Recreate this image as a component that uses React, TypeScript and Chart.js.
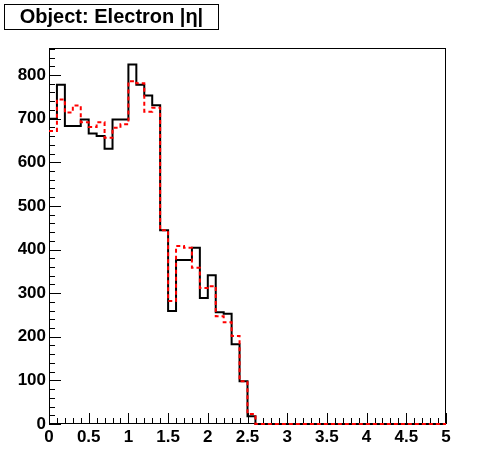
import { useEffect, useRef } from "react";
import { Chart, registerables } from "chart.js";

Chart.register(...registerables);

const TITLE = "Object: Electron |η|";
const X_MIN = 0;
const X_MAX = 5;
const BIN_WIDTH = 0.1;
const Y_MAX = 862;
const X_TICKS = [0, 0.5, 1, 1.5, 2, 2.5, 3, 3.5, 4, 4.5, 5];
const Y_TICKS = [0, 100, 200, 300, 400, 500, 600, 700, 800];
const X_MINOR = 0.1;
const Y_MINOR = 20;

// 50 bins of |eta|, width 0.1, from 0 to 5
const blackCounts = [
  700, 778, 683, 683, 698, 666, 660, 631, 698, 698,
  824, 778, 753, 731, 444, 259, 376, 376, 404, 289,
  341, 256, 253, 183, 98, 18, 0, 0, 0, 0,
  0, 0, 0, 0, 0, 0, 0, 0, 0, 0,
  0, 0, 0, 0, 0, 0, 0, 0, 0, 0,
];
const redCounts = [
  672, 744, 714, 730, 692, 681, 692, 656, 679, 687,
  786, 781, 716, 725, 444, 282, 408, 404, 358, 312,
  316, 247, 233, 202, 98, 23, 0, 0, 0, 0,
  0, 0, 0, 0, 0, 0, 0, 0, 0, 0,
  0, 0, 0, 0, 0, 0, 0, 0, 0, 0,
];

function histPoints(counts: number[]) {
  const pts = counts.map((v, i) => ({ x: +(X_MIN + i * BIN_WIDTH).toFixed(3), y: v }));
  pts.push({ x: X_MAX, y: counts[counts.length - 1] });
  return pts;
}

const FONT = '"Liberation Sans", Arial, Helvetica, sans-serif';

const rootDecor = {
  id: "rootDecor",
  beforeDatasetsDraw(chart: any) {
    const { ctx, chartArea: a, scales } = chart;
    const x = scales.x;
    const y = scales.y;
    ctx.save();
    ctx.strokeStyle = "#000";
    ctx.lineWidth = 1;
    ctx.setLineDash([]);
    ctx.strokeRect(Math.round(a.left) + 0.5, Math.round(a.top) + 0.5, Math.round(a.right - a.left) - 1, Math.round(a.bottom - a.top) - 1);
    ctx.beginPath();
    const nx = Math.round((X_MAX - X_MIN) / X_MINOR);
    for (let i = 0; i <= nx; i++) {
      const v = X_MIN + i * X_MINOR;
      const px = Math.round(x.getPixelForValue(v)) + 0.5;
      const len = i % 5 === 0 ? 11 : 6;
      ctx.moveTo(px, a.bottom);
      ctx.lineTo(px, a.bottom - len);
    }
    const ny = Math.floor(Y_MAX / Y_MINOR);
    for (let i = 0; i <= ny; i++) {
      const v = i * Y_MINOR;
      const py = Math.round(y.getPixelForValue(v)) + 0.5;
      const len = i % 5 === 0 ? 12 : 6;
      ctx.moveTo(a.left, py);
      ctx.lineTo(a.left + len, py);
    }
    ctx.stroke();
    ctx.restore();
  },
  afterDraw(chart: any) {
    const { ctx } = chart;
    ctx.save();
    ctx.strokeStyle = "#000";
    ctx.lineWidth = 1;
    ctx.setLineDash([]);
    ctx.fillStyle = "#fff";
    ctx.fillRect(4.5, 4.5, 214, 25);
    ctx.strokeRect(4.5, 4.5, 214, 25);
    ctx.fillStyle = "#000";
    ctx.font = `bold 20px ${FONT}`;
    ctx.textAlign = "center";
    ctx.textBaseline = "middle";
    ctx.fillText(TITLE, 111.5, 17.5);
    ctx.restore();
  },
};

export default function App() {
  const ref = useRef<HTMLCanvasElement | null>(null);
  useEffect(() => {
    if (!ref.current) return;
    const chart = new Chart(ref.current, {
      type: "line",
      data: {
        datasets: [
          {
            label: "red",
            data: histPoints(redCounts),
            borderColor: "#ff0000",
            borderWidth: 2,
            borderDash: [4, 3],
            stepped: true,
            pointRadius: 0,
            fill: false,
            order: 0,
            clip: 2,
          },
          {
            label: "black",
            data: histPoints(blackCounts),
            borderColor: "#000000",
            borderWidth: 2,
            stepped: true,
            pointRadius: 0,
            fill: false,
            order: 1,
            clip: 2,
          },
        ],
      },
      options: {
        responsive: false,
        animation: false,
        devicePixelRatio: 1,
        layout: { padding: { top: 48, right: 50, left: 0, bottom: 0 } },
        plugins: { legend: { display: false }, tooltip: { enabled: false }, title: { display: false } },
        scales: {
          x: {
            type: "linear",
            min: X_MIN,
            max: X_MAX,
            grid: { display: false, drawTicks: false },
            border: { display: false },
            afterBuildTicks: (s: any) => {
              s.ticks = X_TICKS.map((v) => ({ value: v }));
            },
            afterFit: (s: any) => {
              s.height = 48;
            },
            ticks: {
              autoSkip: false,
              maxRotation: 0,
              padding: 3,
              color: "#000",
              font: { family: FONT, size: 17, weight: "bold" },
              callback: (v: any) => String(v),
            },
          },
          y: {
            type: "linear",
            min: 0,
            max: Y_MAX,
            grid: { display: false, drawTicks: false },
            border: { display: false },
            afterBuildTicks: (s: any) => {
              s.ticks = Y_TICKS.map((v) => ({ value: v }));
            },
            afterFit: (s: any) => {
              s.width = 49;
            },
            ticks: {
              autoSkip: false,
              padding: 3,
              color: "#000",
              font: { family: FONT, size: 17, weight: "bold" },
              callback: (v: any) => String(v),
            },
          },
        },
      },
      plugins: [rootDecor],
    });
    return () => chart.destroy();
  }, []);
  return (
    <div style={{ position: "fixed", left: 0, top: 0, width: 496, height: 472, background: "#fff" }}>
      <canvas ref={ref} width={496} height={472} style={{ width: 496, height: 472 }} />
    </div>
  );
}
